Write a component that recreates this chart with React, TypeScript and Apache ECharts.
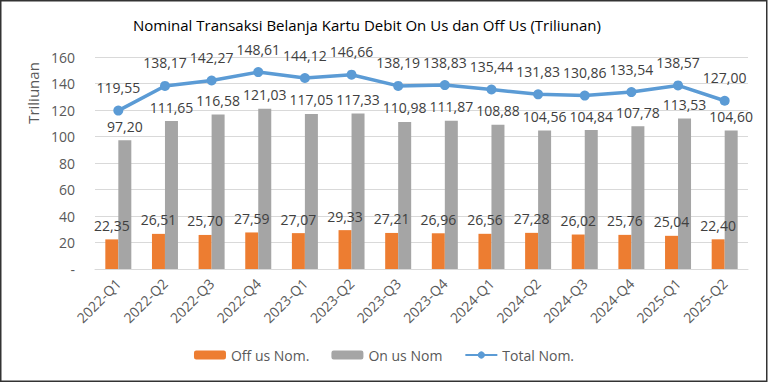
import React, { useEffect, useRef } from "react";
import * as echarts from "echarts";

const categories = [
  "2022-Q1", "2022-Q2", "2022-Q3", "2022-Q4",
  "2023-Q1", "2023-Q2", "2023-Q3", "2023-Q4",
  "2024-Q1", "2024-Q2", "2024-Q3", "2024-Q4",
  "2025-Q1", "2025-Q2",
];
const offUs = [22.35, 26.51, 25.7, 27.59, 27.07, 29.33, 27.21, 26.96, 26.56, 27.28, 26.02, 25.76, 25.04, 22.4];
const onUs = [97.2, 111.65, 116.58, 121.03, 117.05, 117.33, 110.98, 111.87, 108.88, 104.56, 104.84, 107.78, 113.53, 104.6];
const total = [119.55, 138.17, 142.27, 148.61, 144.12, 146.66, 138.19, 138.83, 135.44, 131.83, 130.86, 133.54, 138.57, 127.0];

const FONT = "'Open Sans', 'Liberation Sans', sans-serif";
const fmt = (v: number) => v.toFixed(2).replace(".", ",");

export default function App() {
  const ref = useRef<HTMLDivElement>(null);
  useEffect(() => {
    if (!ref.current) return;
    const chart = echarts.init(ref.current, null, { renderer: "svg" });
    const labelStyle = {
      show: true,
      position: "top" as const,
      distance: 7,
      fontFamily: FONT,
      fontSize: 14,
      color: "#404040",
      formatter: (p: any) => fmt(p.value),
    };
    chart.setOption({
      animation: false,
      backgroundColor: "#ffffff",
      textStyle: { fontFamily: FONT },
      grid: { left: 95, right: 20, top: 57, bottom: 114, containLabel: false },
      graphic: [
        {
          type: "rect",
          shape: { x: 0.75, y: 0.75, width: 766, height: 380.5 },
          style: { fill: "none", stroke: "#333333", lineWidth: 1.5 },
          silent: true,
        },
        {
          type: "text",
          x: 367,
          y: 25,
          style: {
            text: "Nominal Transaksi Belanja Kartu Debit On Us dan Off Us (Triliunan)",
            fontFamily: FONT,
            fontSize: 15,
            fill: "#000000",
            align: "center",
            verticalAlign: "middle",
          },
        },
        {
          type: "text",
          x: 33,
          y: 93,
          rotation: Math.PI / 2,
          style: {
            text: "Triliunan",
            fontFamily: FONT,
            fontSize: 15,
            fill: "#595959",
            align: "center",
            verticalAlign: "middle",
          },
        },
      ],
      legend: {
        bottom: 16,
        left: "center",
        itemWidth: 32,
        itemHeight: 9,
        itemGap: 22,
        textStyle: { fontFamily: FONT, fontSize: 14, color: "#595959" },
        data: ["Off us Nom.", "On us Nom", "Total Nom."],
      },
      xAxis: {
        type: "category",
        data: categories,
        axisLine: { lineStyle: { color: "#D9D9D9", width: 1 } },
        axisTick: { show: false },
        axisLabel: {
          interval: 0,
          rotate: 45,
          margin: 12,
          fontFamily: FONT,
          fontSize: 14,
          color: "#595959",
        },
      },
      yAxis: {
        type: "value",
        min: 0,
        max: 160,
        interval: 20,
        axisLine: { show: false },
        axisTick: { show: false },
        splitLine: { lineStyle: { color: "#D9D9D9", width: 1 } },
        axisLabel: {
          margin: 20,
          fontFamily: FONT,
          fontSize: 14,
          color: "#595959",
          formatter: (v: number) => (v === 0 ? "-" : String(v)),
        },
      },
      series: [
        {
          name: "Off us Nom.",
          type: "bar",
          data: offUs,
          barWidth: 13,
          barGap: "0%",
          itemStyle: { color: "#ED7D31" },
          label: labelStyle,
        },
        {
          name: "On us Nom",
          type: "bar",
          data: onUs,
          barWidth: 13,
          barGap: "0%",
          itemStyle: { color: "#A5A5A5" },
          label: labelStyle,
        },
        {
          name: "Total Nom.",
          type: "line",
          data: total,
          symbol: "circle",
          symbolSize: 10,
          lineStyle: { color: "#5B9BD5", width: 3.5 },
          itemStyle: { color: "#5B9BD5" },
          label: { ...labelStyle, distance: 11 },
          z: 5,
        },
      ],
    });
    return () => chart.dispose();
  }, []);
  return (
    <div
      ref={ref}
      style={{ position: "fixed", left: 0, top: 0, width: 768, height: 383 }}
    />
  );
}
